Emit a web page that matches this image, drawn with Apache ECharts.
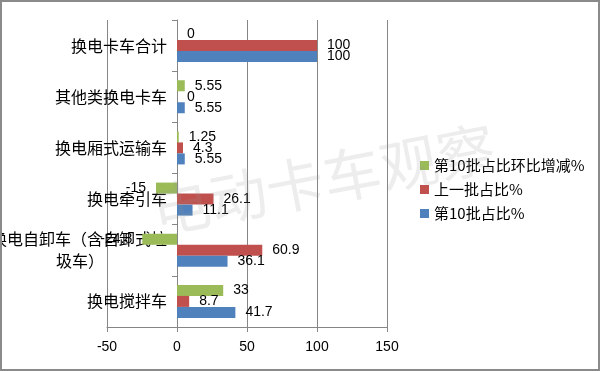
<!DOCTYPE html>
<html><head><meta charset="utf-8">
<script src="https://cdn.jsdelivr.net/npm/echarts@6/dist/echarts.min.js"></script>
<style>
html,body{margin:0;padding:0;background:#fff;}
#c{width:600px;height:371px;box-sizing:border-box;border:2px solid #8a8a8a;}
</style></head><body>
<div id="c"></div>
<script>
const categories = ['换电搅拌车', '换电自卸车（含自卸式垃\n圾车）', '换电牵引车', '换电厢式运输车', '其他类换电卡车', '换电卡车合计'];
const seriesNames = ['第10批占比环比增减%', '上一批占比%', '第10批占比%'];
const changeVals = [33, -24.8, -15, 1.25, 5.55, 0];
const prevVals = [8.7, 60.9, 26.1, 4.3, 0, 100];
const curVals = [41.7, 36.1, 11.1, 5.55, 5.55, 100];
const xTicks = [-50, 0, 50, 100, 150];

const colors = ['#9BBB59', '#C0504D', '#4F81BD'];
const numFont = 'Liberation Sans, Arial, sans-serif';
const cjkFont = '"Noto Sans CJK SC", sans-serif';

const chart = echarts.init(document.getElementById('c'), null, {renderer: 'canvas'});
function mk(i, data) {
  return {
    name: seriesNames[i], type: 'bar', data: data, barWidth: 11, barGap: '0%',
    itemStyle: {color: colors[i]},
    label: {
      show: true, color: '#000', fontSize: 14, fontFamily: numFont, distance: 10,
      position: 'right',
      formatter: p => String(p.value)
    },
    z: 2
  };
}
const s = [mk(0, changeVals.map(v => ({value: v, label: {position: v < 0 ? 'left' : 'right'}}))), mk(1, prevVals), mk(2, curVals)];
chart.setOption({
  animation: false,
  color: colors,
  grid: {left: 105, right: 211, top: 18, bottom: 42, containLabel: false, outerBoundsMode: 'none'},
  legend: {
    orient: 'vertical', left: 413, top: 151, itemWidth: 9, itemHeight: 9, itemGap: 9,
    icon: 'rect', data: seriesNames,
    textStyle: {fontSize: 15, fontFamily: cjkFont, color: '#000'}
  },
  xAxis: {
    type: 'value', min: xTicks[0], max: xTicks[xTicks.length - 1], interval: 50,
    axisLine: {show: true, lineStyle: {color: '#868686'}},
    axisTick: {show: true, length: 5, lineStyle: {color: '#868686'}},
    splitLine: {show: true, lineStyle: {color: '#868686', width: 1}},
    axisLabel: {color: '#000', fontSize: 14, fontFamily: numFont, margin: 13}
  },
  yAxis: {
    type: 'category', data: categories,
    axisLine: {show: true, onZero: true, lineStyle: {color: '#868686'}},
    axisTick: {show: true, length: 5, alignWithLabel: false, lineStyle: {color: '#868686'}},
    axisLabel: {
      color: '#000', fontSize: 16, fontFamily: cjkFont, margin: -60, lineHeight: 22,
      formatter: v => {
        const parts = v.split('\n');
        return parts.length > 1 ? parts[0] + '\n{b|' + parts[1] + '}' : v;
      },
      rich: {b: {fontSize: 16, fontFamily: cjkFont, color: '#000', lineHeight: 22, padding: [0, 63, 0, 0]}}
    },
    splitLine: {show: false}
  },
  graphic: [{
    type: 'text', left: 145, top: 116, rotation: 0.19, z: 10, silent: true,
    style: {text: '电动卡车观察', fontSize: 58, fontFamily: cjkFont, fill: 'rgba(150,150,150,0.17)'}
  }],
  series: s
});
</script>
</body></html>
